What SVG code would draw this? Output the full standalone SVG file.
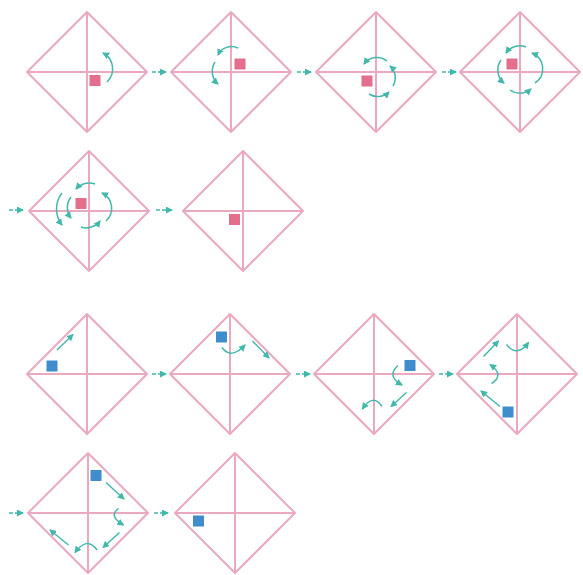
<svg xmlns="http://www.w3.org/2000/svg" width="583" height="575" viewBox="0 0 583 575">
<style>
.dia{fill:none;stroke:#eba9c1;stroke-width:2;stroke-linejoin:round}
.red{fill:#e36f8c}
.blue{fill:#3f8dcc}
.mv{fill:none;stroke:#42b8ac;stroke-width:1.5;marker-end:url(#ah)}
.cn{fill:none;stroke:#42b8ac;stroke-width:1.5;stroke-dasharray:4 2;marker-end:url(#ah)}
</style>
<defs>
<marker id="ah" markerUnits="userSpaceOnUse" markerWidth="7" markerHeight="7" refX="6" refY="3.5" orient="auto">
<path d="M0,0 L7,3.5 L0,7 Z" fill="#42b8ac"/>
</marker>
</defs>
<rect width="583" height="575" fill="#ffffff"/>

<g id="n1">
<path class="dia" d="M87,12 L147,72 L87,132 L27,72 Z M27,72 H147 M87,12 V132"/>
<rect class="red" x="89.5" y="75" width="11" height="11"/>
<path class="mv" d="M107,82 A18,18 0 0 0 103,53"/>
</g>
<g id="n2">
<path class="dia" d="M231,12 L291,72 L231,132 L171,72 Z M171,72 H291 M231,12 V132"/>
<rect class="red" x="234.5" y="58.5" width="11" height="11"/>
<path class="mv" d="M238,48 A15,15 0 0 0 218,55"/>
<path class="mv" d="M215,62 A17,17 0 0 0 218,84"/>
</g>
<g id="n3">
<path class="dia" d="M376,12 L436,72 L376,132 L316,72 Z M316,72 H436 M376,12 V132"/>
<rect class="red" x="361.5" y="75.5" width="11" height="11"/>
<path class="mv" d="M369,94 A16,16 0 0 0 389,92"/>
<path class="mv" d="M393,86 A16,16 0 0 0 390,66"/>
<path class="mv" d="M387,61 A16,16 0 0 0 364,64"/>
</g>
<g id="n4">
<path class="dia" d="M520,12 L580,72 L520,132 L460,72 Z M460,72 H580 M520,12 V132"/>
<rect class="red" x="506.5" y="58.5" width="11" height="11"/>
<path class="mv" d="M535,83 A17,17 0 0 0 532,53"/>
<path class="mv" d="M526,47 A17,17 0 0 0 506,53"/>
<path class="mv" d="M501,60 A17,17 0 0 0 504,83"/>
<path class="mv" d="M510,90 A17,17 0 0 0 531,89"/>
</g>
<g id="n5">
<path class="dia" d="M89,151 L149,211 L89,271 L29,211 Z M29,211 H149 M89,151 V271"/>
<rect class="red" x="75.5" y="198" width="11" height="11"/>
<path class="mv" d="M106,221 A17,17 0 0 0 102,193"/>
<path class="mv" d="M95,184 A17,17 0 0 0 76,189"/>
<path class="mv" d="M71,197 A17,17 0 0 0 71,218"/>
<path class="mv" d="M81,227 A17,17 0 0 0 100,221"/>
<path class="mv" d="M62,193 A26,26 0 0 0 62,225"/>
</g>
<g id="n6">
<path class="dia" d="M243,151 L303,211 L243,271 L183,211 Z M183,211 H303 M243,151 V271"/>
<rect class="red" x="229" y="214" width="11" height="11"/>
</g>

<g id="n7">
<path class="dia" d="M87,314 L147,374 L87,434 L27,374 Z M27,374 H147 M87,314 V434"/>
<rect class="blue" x="46.5" y="360.5" width="11" height="11"/>
<path class="mv" d="M57,350 L73,334.5"/>
</g>
<g id="n8">
<path class="dia" d="M230,314 L290,374 L230,434 L170,374 Z M170,374 H290 M230,314 V434"/>
<rect class="blue" x="216" y="331.5" width="11" height="11"/>
<path class="mv" d="M222,347.5 Q231,360 245,345"/>
<path class="mv" d="M252.5,341 L269,358"/>
</g>
<g id="n9">
<path class="dia" d="M374,314 L434,374 L374,434 L314,374 Z M314,374 H434 M374,314 V434"/>
<rect class="blue" x="404.5" y="360" width="11" height="11"/>
<path class="mv" d="M398,365.5 Q386,376 402,385"/>
<path class="mv" d="M406.5,392.5 L391,406.5"/>
<path class="mv" d="M382,406.5 Q373,393 362.5,409"/>
</g>
<g id="n10">
<path class="dia" d="M517,314 L577,374 L517,434 L457,374 Z M457,374 H577 M517,314 V434"/>
<rect class="blue" x="502.5" y="406.5" width="11" height="11"/>
<path class="mv" d="M500,406.5 L481,391"/>
<path class="mv" d="M491.5,383.5 Q505,375 490,364.5"/>
<path class="mv" d="M483.5,356.5 L498.5,341"/>
<path class="mv" d="M506.5,344.5 Q517,358 528.5,342.5"/>
</g>
<g id="n11">
<path class="dia" d="M88,453 L148,513 L88,573 L28,513 Z M28,513 H148 M88,453 V573"/>
<rect class="blue" x="90.5" y="470" width="11" height="11"/>
<path class="mv" d="M106,482.5 L124,499"/>
<path class="mv" d="M118.5,508.5 Q108,516 123.5,525"/>
<path class="mv" d="M119.5,532.5 L103,547.5"/>
<path class="mv" d="M97,550 Q87,536 75,552.5"/>
<path class="mv" d="M68.5,545 L50,530"/>
</g>
<g id="n12">
<path class="dia" d="M235,453 L295,513 L235,573 L175,513 Z M175,513 H295 M235,453 V573"/>
<rect class="blue" x="193" y="515.5" width="11" height="11"/>
</g>

<g id="connectors">
<path class="cn" d="M152,72 H166"/>
<path class="cn" d="M297,72 H311"/>
<path class="cn" d="M442,72 H456"/>
<path class="cn" d="M9,210 H23"/>
<path class="cn" d="M156,210 H172"/>
<path class="cn" d="M152,374 H166"/>
<path class="cn" d="M296,374 H310"/>
<path class="cn" d="M439,374 H453"/>
<path class="cn" d="M9,513 H23"/>
<path class="cn" d="M154,513 H168"/>
</g>
</svg>
